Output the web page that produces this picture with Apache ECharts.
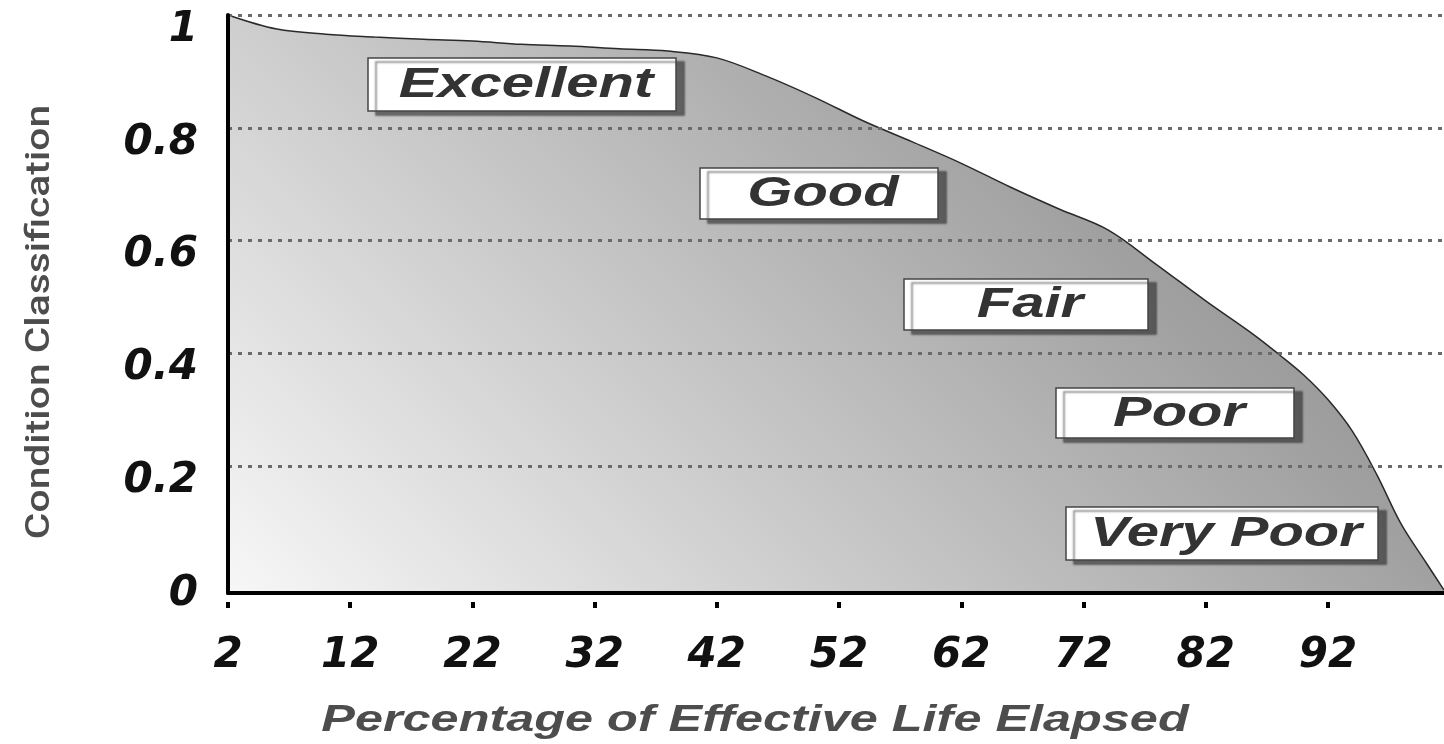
<!DOCTYPE html>
<html>
<head>
    <meta charset="utf-8">
    <title>Condition Classification</title>
    <script src="https://cdn.jsdelivr.net/npm/echarts@6/dist/echarts.min.js"></script>
    <style>
        html, body { margin: 0; padding: 0; background: #fff; }
        #main { width: 1444px; height: 744px; }
    </style>
</head>
<body>
    <div id="main"></div>
    <script type="text/javascript">
        // curve
        var lifeElapsed = [2, 6, 10, 14, 18, 22, 26, 30, 34, 38, 42, 46, 50, 54, 58, 62, 66, 70, 74,
            78, 82, 86, 88, 90, 92, 94, 96, 98, 100, 101.5];
        var condition = [1, 0.975, 0.966, 0.961, 0.957, 0.954, 0.948, 0.945, 0.94, 0.936, 0.924, 0.892, 0.854,
            0.812, 0.775, 0.737, 0.695, 0.656, 0.619, 0.557, 0.493, 0.432, 0.398, 0.362, 0.318, 0.262, 0.185,
            0.097, 0.03, -0.02];

        var xTicks = [2, 12, 22, 32, 42, 52, 62, 72, 82, 92];
        var yTicks = [0, 0.2, 0.4, 0.6, 0.8, 1];
        var yTickLabels = ['0', '0.2', '0.4', '0.6', '0.8', '1'];
        var gridValues = [0.2, 0.4, 0.6, 0.8, 1];
        var classLabels = ['Excellent', 'Good', 'Fair', 'Poor', 'Very Poor'];

        // box placement (pixels)
        var boxes = [
            { x: 368, y: 58, w: 308, h: 53 },
            { x: 700, y: 168, w: 238, h: 51 },
            { x: 904, y: 279, w: 244, h: 51 },
            { x: 1056, y: 388, w: 238, h: 50 },
            { x: 1066, y: 507, w: 312, h: 53 }
        ];

        var points = lifeElapsed.map(function (x, i) { return [x, condition[i]]; });

        var graphics = [];
        boxes.forEach(function (b, i) {
            graphics.push({
                type: 'group',
                x: b.x, y: b.y, z: 100,
                children: [
                    { type: 'rect', z: 100, shape: { x: 0, y: 0, width: b.w, height: b.h },
                      style: { fill: '#ffffff', stroke: '#444', lineWidth: 1.5,
                               shadowBlur: 2, shadowOffsetX: 8, shadowOffsetY: 4, shadowColor: 'rgba(40,40,40,0.6)' } },
                    { type: 'text', z: 101, x: b.w / 2 + 4, y: b.h / 2 + 1, scaleX: 1.38,
                      style: { text: classLabels[i], fill: '#333', font: 'italic bold 42px "Liberation Sans", Arial, sans-serif',
                               align: 'center', verticalAlign: 'middle' } }
                ]
            });
        });
        graphics.push({
            type: 'text', x: 755, y: 721, scaleX: 1.4,
            style: { text: 'Percentage of Effective Life Elapsed', fill: '#4d4d4d',
                     font: 'italic bold 36px "Liberation Sans", Arial, sans-serif', align: 'center', verticalAlign: 'middle' }
        });
        graphics.push({
            type: 'text', x: 40, y: 322, rotation: Math.PI / 2, scaleX: 1.2,
            style: { text: 'Condition Classification', fill: '#4d4d4d',
                     font: '500 34px Roboto, "Liberation Sans", sans-serif', align: 'center', verticalAlign: 'middle' }
        });

        var myChart = echarts.init(document.getElementById('main'));
        var option = {
            animation: false,
            backgroundColor: '#ffffff',
            grid: { left: 228, right: 0, top: 15, bottom: 151, containLabel: false },
            xAxis: {
                type: 'value',
                min: 2,
                max: 101.5,
                z: 10,
                axisLine: { onZero: false, lineStyle: { color: '#000', width: 4 } },
                axisTick: { show: true, length: 16, customValues: xTicks,
                            lineStyle: { color: '#000', width: 4, type: [6, 40], dashOffset: 37 } },
                axisLabel: { customValues: xTicks, margin: 42, color: '#111',
                             fontFamily: '"DejaVu Sans", sans-serif', fontWeight: 'bold', fontStyle: 'italic', fontSize: 42 },
                splitLine: { show: false }
            },
            yAxis: {
                type: 'value',
                min: -0.025,
                max: 1,
                z: 10,
                axisLine: { show: true, onZero: false, lineStyle: { color: '#000', width: 4 } },
                axisTick: { show: false },
                axisLabel: {
                    customValues: yTicks,
                    formatter: function (v) { return yTickLabels[yTicks.indexOf(Math.round(v * 10) / 10)]; },
                    margin: 30, color: '#111', verticalAlign: 'top', lineHeight: 30,
                    fontFamily: '"DejaVu Sans", sans-serif', fontWeight: 'bold', fontStyle: 'italic', fontSize: 42
                },
                splitLine: { show: false }
            },
            series: [{
                type: 'line',
                data: points,
                smooth: 0.35,
                symbol: 'none',
                lineStyle: { color: '#2a2a2a', width: 1.5 },
                areaStyle: {
                    origin: 'start',
                    opacity: 1,
                    color: new echarts.graphic.LinearGradient(228, 593, 1000, -180, [
                        { offset: 0, color: '#f7f7f7' },
                        { offset: 0.45, color: '#c6c6c6' },
                        { offset: 0.8, color: '#a0a0a0' },
                        { offset: 1, color: '#8e8e8e' }
                    ], true)
                },
                markLine: {
                    silent: true,
                    symbol: 'none',
                    label: { show: false },
                    lineStyle: { color: '#6a6a6a', width: 3, type: [4, 6] },
                    data: gridValues.map(function (v) { return { yAxis: v }; })
                }
            }],
            graphic: graphics
        };
        myChart.setOption(option);
    </script>
</body>
</html>
